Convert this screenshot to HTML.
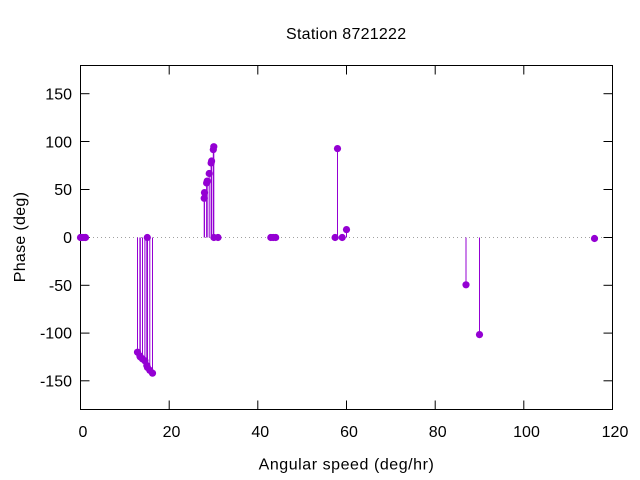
<!DOCTYPE html>
<html>
<head>
<meta charset="utf-8">
<style>
html,body{margin:0;padding:0;background:#fff;}
svg{display:block;}
text{font-family:"Liberation Sans",sans-serif;font-size:16px;fill:#000;}
</style>
</head>
<body>
<svg width="640" height="480" viewBox="0 0 640 480" xmlns="http://www.w3.org/2000/svg">
<rect x="0" y="0" width="640" height="480" fill="#fff"/>

<!-- zero line -->
<line x1="81" y1="237.5" x2="612" y2="237.5" stroke="#a0a0a0" stroke-width="1" stroke-dasharray="1,3"/>

<!-- ticks -->
<g stroke="#000" stroke-width="1">
  <line x1="80.5" y1="93.7" x2="89.5" y2="93.7"/><line x1="612.5" y1="93.7" x2="603.5" y2="93.7"/>
  <line x1="80.5" y1="141.5" x2="89.5" y2="141.5"/><line x1="612.5" y1="141.5" x2="603.5" y2="141.5"/>
  <line x1="80.5" y1="189.5" x2="89.5" y2="189.5"/><line x1="612.5" y1="189.5" x2="603.5" y2="189.5"/>
  <line x1="80.5" y1="237.5" x2="89.5" y2="237.5"/><line x1="612.5" y1="237.5" x2="603.5" y2="237.5"/>
  <line x1="80.5" y1="285.3" x2="89.5" y2="285.3"/><line x1="612.5" y1="285.3" x2="603.5" y2="285.3"/>
  <line x1="80.5" y1="333.1" x2="89.5" y2="333.1"/><line x1="612.5" y1="333.1" x2="603.5" y2="333.1"/>
  <line x1="80.5" y1="380.8" x2="89.5" y2="380.8"/><line x1="612.5" y1="380.8" x2="603.5" y2="380.8"/>
  <line x1="169.2" y1="409.5" x2="169.2" y2="400.5"/><line x1="169.2" y1="65.5" x2="169.2" y2="74.5"/>
  <line x1="257.8" y1="409.5" x2="257.8" y2="400.5"/><line x1="257.8" y1="65.5" x2="257.8" y2="74.5"/>
  <line x1="346.5" y1="409.5" x2="346.5" y2="400.5"/><line x1="346.5" y1="65.5" x2="346.5" y2="74.5"/>
  <line x1="435.2" y1="409.5" x2="435.2" y2="400.5"/><line x1="435.2" y1="65.5" x2="435.2" y2="74.5"/>
  <line x1="523.8" y1="409.5" x2="523.8" y2="400.5"/><line x1="523.8" y1="65.5" x2="523.8" y2="74.5"/>
</g>

<!-- border -->
<rect x="80.5" y="65.5" width="532" height="344" fill="none" stroke="#000" stroke-width="1"/>

<!-- y tick labels -->
<g text-anchor="end">
  <text x="72" y="99.5">150</text>
  <text x="72" y="147.3">100</text>
  <text x="72" y="195.2">50</text>
  <text x="72" y="243">0</text>
  <text x="72" y="290.8">-50</text>
  <text x="72" y="338.6">-100</text>
  <text x="72" y="386.3">-150</text>
</g>

<!-- x tick labels -->
<g text-anchor="middle">
  <text x="83" y="437">0</text>
  <text x="171.5" y="437">20</text>
  <text x="260.3" y="437">40</text>
  <text x="349" y="437">60</text>
  <text x="437.7" y="437">80</text>
  <text x="526.5" y="437">100</text>
  <text x="615" y="437">120</text>
</g>

<!-- titles -->
<text x="346.2" y="39" text-anchor="middle" letter-spacing="0.25">Station 8721222</text>
<text x="346.5" y="469.5" text-anchor="middle" letter-spacing="0.55">Angular speed (deg/hr)</text>
<text transform="translate(25,237) rotate(-90)" text-anchor="middle" letter-spacing="0.3">Phase (deg)</text>

<!-- impulses -->
<g stroke="#9400d3" stroke-width="1">
  <line x1="137.5" y1="237.5" x2="137.5" y2="352.2"/>
  <line x1="139.9" y1="237.5" x2="139.9" y2="356.0"/>
  <line x1="140.3" y1="237.5" x2="140.3" y2="357.0"/>
  <line x1="142.5" y1="237.5" x2="142.5" y2="358.9"/>
  <line x1="144.9" y1="237.5" x2="144.9" y2="360.8"/>
  <line x1="146.8" y1="237.5" x2="146.8" y2="365.5"/>
  <line x1="147.5" y1="237.5" x2="147.5" y2="367.5"/>
  <line x1="149.8" y1="237.5" x2="149.8" y2="370.3"/>
  <line x1="152.5" y1="237.5" x2="152.5" y2="373.2"/>

  <line x1="204.2" y1="237.5" x2="204.2" y2="198.3"/>
  <line x1="204.5" y1="237.5" x2="204.5" y2="192.6"/>
  <line x1="206.6" y1="237.5" x2="206.6" y2="183.0"/>
  <line x1="207.2" y1="237.5" x2="207.2" y2="181.1"/>
  <line x1="209.2" y1="237.5" x2="209.2" y2="173.5"/>
  <line x1="211.1" y1="237.5" x2="211.1" y2="163.0"/>
  <line x1="211.6" y1="237.5" x2="211.6" y2="161.0"/>
  <line x1="213.3" y1="237.5" x2="213.3" y2="149.6"/>
  <line x1="213.8" y1="237.5" x2="213.8" y2="146.7"/>

  <line x1="337.5" y1="237.5" x2="337.5" y2="148.6"/>
  <line x1="346.5" y1="237.5" x2="346.5" y2="229.6"/>
  <line x1="466.0" y1="237.5" x2="466.0" y2="284.8"/>
  <line x1="479.5" y1="237.5" x2="479.5" y2="334.6"/>
  <line x1="594.5" y1="237.5" x2="594.5" y2="238.5"/>
</g>

<!-- points -->
<g fill="#9400d3">
  <circle cx="80.5" cy="237.5" r="3.6"/>
  <circle cx="80.9" cy="237.5" r="3.6"/>
  <circle cx="82.9" cy="237.5" r="3.6"/>
  <circle cx="85.0" cy="237.5" r="3.6"/>
  <circle cx="85.5" cy="237.5" r="3.6"/>

  <circle cx="137.5" cy="352.2" r="3.6"/>
  <circle cx="139.9" cy="356.0" r="3.6"/>
  <circle cx="140.3" cy="357.0" r="3.6"/>
  <circle cx="142.5" cy="358.9" r="3.6"/>
  <circle cx="144.9" cy="360.8" r="3.6"/>
  <circle cx="146.8" cy="365.5" r="3.6"/>
  <circle cx="147.3" cy="237.5" r="3.6"/>
  <circle cx="147.5" cy="367.5" r="3.6"/>
  <circle cx="149.8" cy="370.3" r="3.6"/>
  <circle cx="152.5" cy="373.2" r="3.6"/>

  <circle cx="204.2" cy="198.3" r="3.6"/>
  <circle cx="204.5" cy="192.6" r="3.6"/>
  <circle cx="206.6" cy="183.0" r="3.6"/>
  <circle cx="207.2" cy="181.1" r="3.6"/>
  <circle cx="209.2" cy="173.5" r="3.6"/>
  <circle cx="211.1" cy="163.0" r="3.6"/>
  <circle cx="211.6" cy="161.0" r="3.6"/>
  <circle cx="213.3" cy="149.6" r="3.6"/>
  <circle cx="213.8" cy="146.7" r="3.6"/>
  <circle cx="213.9" cy="237.5" r="3.6"/>
  <circle cx="218.0" cy="237.5" r="3.6"/>

  <circle cx="270.8" cy="237.5" r="3.6"/>
  <circle cx="273.2" cy="237.5" r="3.6"/>
  <circle cx="275.7" cy="237.5" r="3.6"/>

  <circle cx="335.1" cy="237.5" r="3.6"/>
  <circle cx="337.5" cy="148.6" r="3.6"/>
  <circle cx="342.2" cy="237.5" r="3.6"/>
  <circle cx="346.5" cy="229.6" r="3.6"/>

  <circle cx="466.0" cy="284.8" r="3.6"/>
  <circle cx="479.5" cy="334.6" r="3.6"/>
  <circle cx="594.5" cy="238.5" r="3.6"/>
</g>
</svg>
</body>
</html>
